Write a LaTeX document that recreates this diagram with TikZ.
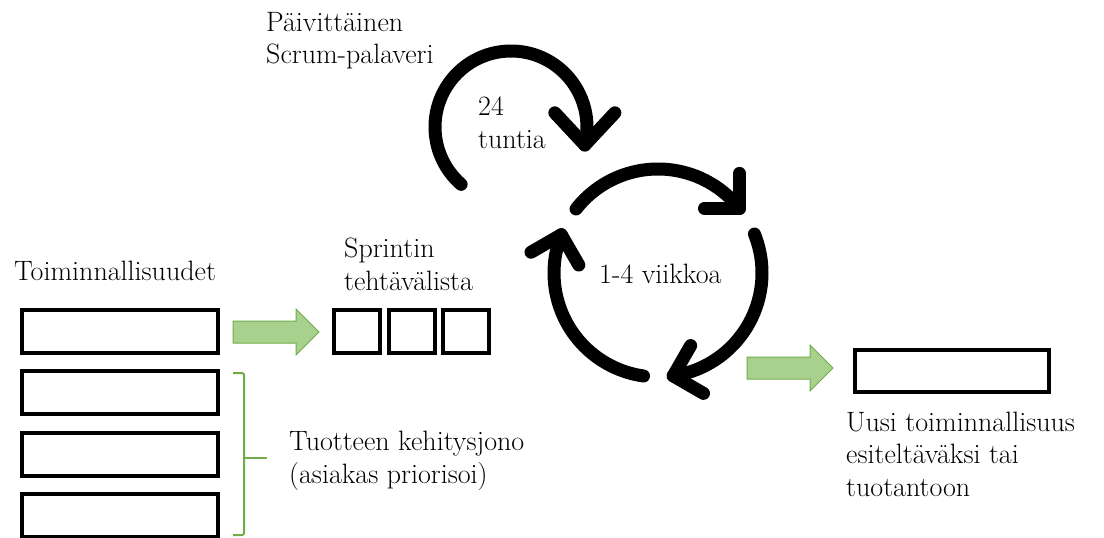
\documentclass[tikz,border=0pt]{standalone}
\usepackage{fontspec}
\usetikzlibrary{calc}
\definecolor{arrowfill}{RGB}{169,209,142}
\definecolor{arrowedge}{RGB}{112,173,71}
\begin{document}
\begin{tikzpicture}[x=1pt,y=-1pt,
  lbl/.style={anchor=base west, inner sep=0pt, align=left,
              font=\fontsize{28}{32.5}\selectfont},
  widebox/.style={draw=black, line width=4pt, inner sep=0pt,
                  minimum width=196pt, minimum height=43pt},
  taskbox/.style={draw=black, line width=4pt, inner sep=0pt,
                  minimum width=46pt, minimum height=43pt},
  cyc/.style={line width=13pt, line cap=round, line join=round},
  bracket/.style={draw=arrowedge, line width=2pt, rounded corners=2pt},
  garrow/.pic={\draw[fill=arrowfill, draw=arrowedge, line width=1pt]
      (0,-11) -- (63,-11) -- (63,-23) -- (86,0) -- (63,23) -- (63,11) -- (0,11) -- cycle;}]
\useasboundingbox (0,0) rectangle (1104,538);

% product backlog
\node[lbl] (featTitle) at (14,280) {Toiminnallisuudet};
\node[widebox] (feat1) at (120,331.5) {};
\node[widebox] (feat2) at (120,392.8) {};
\node[widebox] (feat3) at (120,454.1) {};
\node[widebox] (feat4) at (120,515.4) {};

% bracket grouping the backlog
\coordinate (brTop) at (233,373);
\coordinate (brBot) at (233,535);
\coordinate (brTip) at (267,458);
\draw[bracket] (brTop) -- (244,373) -- (244,535) -- (brBot);
\draw[bracket] (244,458) -- (brTip);
% multi-line labels are placed by the baseline of their last line
\node[lbl] (backlogText) at (289,483) {Tuotteen kehitysjono\\(asiakas priorisoi)};

% sprint backlog
\pic at (233,332) {garrow};
\node[lbl] (sprintTitle) at (344,290) {Sprintin\\tehtävälista};
\node[taskbox] (task1) at (357,331.5) {};
\node[taskbox] (task2) at (411.5,331.5) {};
\node[taskbox] (task3) at (466,331.5) {};

% daily scrum loop
\coordinate (daily) at (511,127);
\draw[cyc] ($(daily)+(131:76)$) arc[start angle=131, end angle=373.7, radius=76]
  coordinate (dailyTip);
\draw[cyc] ($(dailyTip)+(227:44)$) -- (dailyTip) -- ($(dailyTip)+(313:44)$);
\node[lbl] (dailyTitle) at (266,63.5) {Päivittäinen\\Scrum-palaveri};
\node[lbl] (dailyTime) at (478,148) {24\\tuntia};

% sprint loop: three arcs with open chevron heads
\coordinate (sprint) at (658,273);
\foreach \a [count=\k] in {0,120,240}{
  \draw[cyc] ($(sprint)+(218+\a:104)$)
    arc[start angle=218+\a, end angle=321.6+\a, radius=104] coordinate (tip\k);
  \draw[cyc] ($(tip\k)+(270+\a:35)$) -- (tip\k) -- ($(tip\k)+(180+\a:35)$);
}
\node[lbl] (sprintTime) at (599,283) {1-4 viikkoa};

% increment
\pic at (747,368) {garrow};
\node[draw=black, line width=4pt, inner sep=0pt, minimum width=194.5pt,
      minimum height=41.5pt] (increment) at (952,371) {};
\node[lbl] (incrementText) at (846,496) {Uusi toiminnallisuus\\esiteltäväksi tai\\tuotantoon};
\end{tikzpicture}
\end{document}
